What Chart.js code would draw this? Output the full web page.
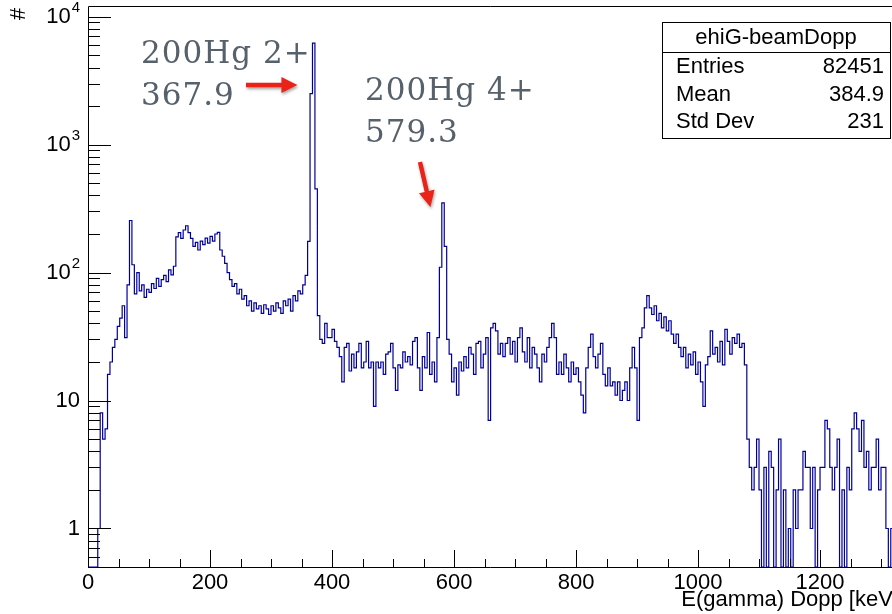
<!DOCTYPE html>
<html>
<head>
<meta charset="utf-8">
<script src="https://cdn.jsdelivr.net/npm/chart.js@4.4.1/dist/chart.umd.min.js"></script>
<style>
    html, body { margin: 0; padding: 0; background: #ffffff; }
    canvas { display: block; }
</style>
</head>
<body>
<canvas id="spectrum" width="892" height="614"></canvas>
<script>

// ============================================
// DATOS DEL HISTOGRAMA
// ============================================

// ancho de bin en keV; cada valor es el contenido del bin
const BIN_WIDTH = 4;

const counts = [
    0, 0, 0, 0, 1, 8, 5, 6, 16, 20,
    26, 30, 38, 44, 55, 31, 80, 255, 115, 68,
    100, 72, 80, 64, 74, 70, 82, 75, 90, 78,
    88, 95, 85, 105, 96, 112, 190, 205, 185, 215,
    232, 205, 185, 160, 172, 150, 176, 165, 186, 170,
    192, 176, 200, 206, 150, 134, 118, 100, 88, 78,
    82, 68, 74, 62, 66, 55, 60, 50, 58, 52,
    55, 48, 56, 52, 47, 55, 50, 58, 53, 48,
    60, 55, 62, 50, 66, 60, 72, 68, 80, 95,
    175, 2500, 6200, 450, 46, 30, 28, 40, 31, 31,
    36, 29, 26, 22, 14, 26, 28, 17, 23, 18,
    24, 28, 18, 20, 29, 18, 20, 9, 20, 18,
    20, 16, 23, 24, 28, 18, 12, 19, 18, 24,
    20, 22, 19, 29, 31, 18, 12, 22, 18, 34,
    16, 20, 14, 31, 110, 350, 160, 30, 23, 14,
    18, 11, 20, 17, 22, 18, 26, 23, 16, 28,
    29, 18, 23, 31, 7, 37, 40, 35, 23, 28,
    22, 28, 31, 23, 29, 20, 31, 37, 24, 20,
    31, 18, 26, 23, 18, 14, 23, 20, 26, 31,
    40, 31, 16, 20, 16, 23, 18, 14, 20, 16,
    18, 14, 11, 8, 18, 26, 33, 22, 18, 23,
    28, 16, 13, 18, 13, 14, 11, 14, 10, 12,
    14, 10, 18, 26, 18, 7, 31, 37, 53, 66,
    53, 47, 55, 42, 48, 37, 45, 35, 42, 33,
    28, 33, 26, 22, 26, 18, 23, 19, 24, 16,
    20, 14, 9, 19, 22, 35, 23, 26, 20, 29,
    19, 36, 29, 23, 31, 28, 33, 26, 28, 19,
    5, 3, 2, 3, 5, 2, 0, 3, 0, 4,
    3, 0, 2, 5, 0, 2, 0, 1, 0, 2,
    1, 2, 2, 4, 3, 3, 1, 3, 0, 2,
    3, 3, 7, 6, 3, 2, 3, 5, 0, 2,
    0, 3, 2, 6, 8, 6, 4, 7, 3, 4,
    2, 3, 3, 5, 2, 3, 3, 1, 0, 1
];

// rango de ejes
const X_MIN = 0;
const X_MAX = 1318;
const Y_MIN = 0.5;
const Y_MAX = 12100;

// marcas del eje X
const xMajorTicks = [0, 200, 400, 600, 800, 1000, 1200];
const xMinorStep = 50;

// marcas del eje Y (décadas)
const yDecades = [0, 1, 2, 3, 4];

// caja de estadísticas
const statsTitle = 'ehiG-beamDopp';
const statLabels = ['Entries', 'Mean', 'Std Dev'];
const statValues = ['82451', '384.9', '231'];

// picos marcados
const peakNames = ['200Hg 2+', '200Hg 4+'];
const peakEnergies = [367.9, 579.3];

const xTitle = 'E(gamma) Dopp [keV]';
const yTitle = '#';



// ============================================
// PUNTOS DEL HISTOGRAMA (borde bajo de cada bin)
// ============================================

const points =
    counts.map(
        (c, i) => ({ x: i * BIN_WIDTH, y: c > 0 ? c : Y_MIN })
    );

points.push({
    x: counts.length * BIN_WIDTH,
    y: counts[counts.length - 1] > 0 ? counts[counts.length - 1] : Y_MIN
});



// ============================================
// UTILIDADES DE DIBUJO
// ============================================

const FONT = '"Liberation Sans", Arial, sans-serif';

function drawArrow(ctx, x0, y0, x1, y1) {

    const ang = Math.atan2(y1 - y0, x1 - x0);
    const len = Math.hypot(x1 - x0, y1 - y0);
    const head = 16;
    const half = 8;
    const shaft = 2.2;

    ctx.save();
    ctx.translate(x1, y1);
    ctx.rotate(ang);

    ctx.beginPath();
    ctx.moveTo(-len, -shaft);
    ctx.lineTo(-head, -shaft);
    ctx.lineTo(-head, -half);
    ctx.lineTo(0, 0);
    ctx.lineTo(-head, half);
    ctx.lineTo(-head, shaft);
    ctx.lineTo(-len, shaft);
    ctx.closePath();

    ctx.fillStyle = '#ea2218';
    ctx.shadowColor = 'rgba(0, 0, 0, 0.35)';
    ctx.shadowBlur = 3;
    ctx.shadowOffsetX = 1;
    ctx.shadowOffsetY = 2;
    ctx.fill();

    ctx.restore();
}


function drawPowerLabel(ctx, exp, right, y) {

    ctx.textBaseline = 'middle';
    ctx.textAlign = 'left';

    if (exp === 0 || exp === 1) {

        const txt = exp === 0 ? '1' : '10';
        ctx.font = '22px ' + FONT;
        ctx.fillText(txt, right - ctx.measureText(txt).width, y);
        return;
    }

    ctx.font = '15px ' + FONT;
    const supW = ctx.measureText(String(exp)).width;

    ctx.font = '22px ' + FONT;
    const baseW = ctx.measureText('10').width;

    const left = right - supW - baseW - 1;

    ctx.fillText('10', left, y);

    ctx.font = '15px ' + FONT;
    ctx.fillText(String(exp), left + baseW + 1, y - 9);
}



// ============================================
// EJES, MARCO, ESTADÍSTICAS Y ANOTACIONES
// ============================================

const rootFrame = {

    id: 'rootFrame',

    afterDatasetsDraw(chart) {

        const ctx = chart.ctx;
        const area = chart.chartArea;
        const xs = chart.scales.x;
        const ys = chart.scales.y;

        ctx.save();

        // marco
        ctx.strokeStyle = '#000000';
        ctx.lineWidth = 1;
        ctx.beginPath();
        ctx.moveTo(area.right + 2, area.top + 0.5);
        ctx.lineTo(area.left + 0.5, area.top + 0.5);
        ctx.lineTo(area.left + 0.5, area.bottom + 0.5);
        ctx.lineTo(area.right + 2, area.bottom + 0.5);
        ctx.stroke();

        // marcas del eje X
        ctx.beginPath();
        for (let v = X_MIN; v <= X_MAX; v += xMinorStep) {

            const px = Math.round(xs.getPixelForValue(v)) + 0.5;
            const len = xMajorTicks.includes(v) ? 17 : 8;

            ctx.moveTo(px, area.bottom);
            ctx.lineTo(px, area.bottom - len);
        }
        ctx.stroke();

        // marcas del eje Y
        ctx.beginPath();
        for (let d = -1; d <= 4; d++) {

            for (let k = 1; k <= 9; k++) {

                const v = k * Math.pow(10, d);
                if (v < Y_MIN || v > Y_MAX) continue;

                const py = Math.round(ys.getPixelForValue(v)) + 0.5;
                const len = k === 1 ? 23 : 12;

                ctx.moveTo(area.left, py);
                ctx.lineTo(area.left + len, py);
            }
        }
        ctx.stroke();

        // etiquetas del eje X
        ctx.fillStyle = '#000000';
        ctx.font = '22px ' + FONT;
        ctx.textAlign = 'center';
        ctx.textBaseline = 'top';

        xMajorTicks.forEach(v => {
            ctx.fillText(String(v), xs.getPixelForValue(v), area.bottom + 5);
        });

        // etiquetas del eje Y
        yDecades.forEach(d => {
            drawPowerLabel(ctx, d, 80, ys.getPixelForValue(Math.pow(10, d)));
        });

        // títulos de ejes
        ctx.font = '22px ' + FONT;
        ctx.textAlign = 'right';
        ctx.textBaseline = 'top';
        ctx.fillText(xTitle, 899, 589);

        ctx.save();
        ctx.translate(19, 14);
        ctx.rotate(-Math.PI / 2);
        ctx.textAlign = 'center';
        ctx.textBaseline = 'middle';
        ctx.fillText(yTitle, 0, 0);
        ctx.restore();

        // caja de estadísticas
        const bx = 662, by = 22, bw = 228, bh = 116;

        ctx.fillStyle = '#ffffff';
        ctx.fillRect(bx, by, bw, bh);
        ctx.strokeStyle = '#000000';
        ctx.strokeRect(bx + 0.5, by + 0.5, bw, bh);

        ctx.beginPath();
        ctx.moveTo(bx, by + 30.5);
        ctx.lineTo(bx + bw, by + 30.5);
        ctx.stroke();

        ctx.fillStyle = '#000000';
        ctx.textBaseline = 'middle';
        ctx.textAlign = 'center';
        ctx.fillText(statsTitle, bx + bw / 2, by + 16);

        statLabels.forEach((lab, i) => {

            const ry = by + 45 + i * 27.5;

            ctx.textAlign = 'left';
            ctx.fillText(lab, bx + 14, ry);

            ctx.textAlign = 'right';
            ctx.fillText(statValues[i], bx + bw - 6, ry);
        });

        // anotaciones de los picos
        ctx.fillStyle = '#56616b';
        ctx.font = '31px "DejaVu Serif", serif';
        ctx.letterSpacing = '1px';
        ctx.textAlign = 'left';
        ctx.textBaseline = 'alphabetic';

        ctx.fillText(peakNames[0], 141, 63);
        ctx.fillText(peakEnergies[0].toFixed(1), 141, 105);

        ctx.fillText(peakNames[1], 365, 100);
        ctx.fillText(peakEnergies[1].toFixed(1), 365, 142);

        ctx.letterSpacing = '0px';

        const tip1 = xs.getPixelForValue(peakEnergies[0]) - 15;
        drawArrow(ctx, 246, 85, tip1, 85);

        const tip2 = xs.getPixelForValue(peakEnergies[1]) - 11;
        drawArrow(ctx, 420, 162, tip2, 207);

        ctx.restore();
    }
};



// ============================================
// GRAFICA DEL ESPECTRO
// ============================================

const ctx =
    document
    .getElementById('spectrum')
    .getContext('2d');

new Chart(ctx, {

    type: 'line',

    data: {

        datasets: [

            {
                data: points,

                borderColor: '#000099',

                borderWidth: 1.2,

                stepped: true,

                pointRadius: 0,

                fill: false
            }
        ]
    },

    options: {

        responsive: false,

        animation: false,

        devicePixelRatio: 1,

        layout: {

            padding: { left: 88, top: 6, right: 0, bottom: 47 }
        },

        plugins: {

            legend: { display: false },

            tooltip: { enabled: false }
        },

        scales: {

            x: {
                type: 'linear',
                min: X_MIN,
                max: X_MAX,
                display: false
            },

            y: {
                type: 'logarithmic',
                min: Y_MIN,
                max: Y_MAX,
                display: false
            }
        }
    },

    plugins: [rootFrame]
});

</script>
</body>
</html>
